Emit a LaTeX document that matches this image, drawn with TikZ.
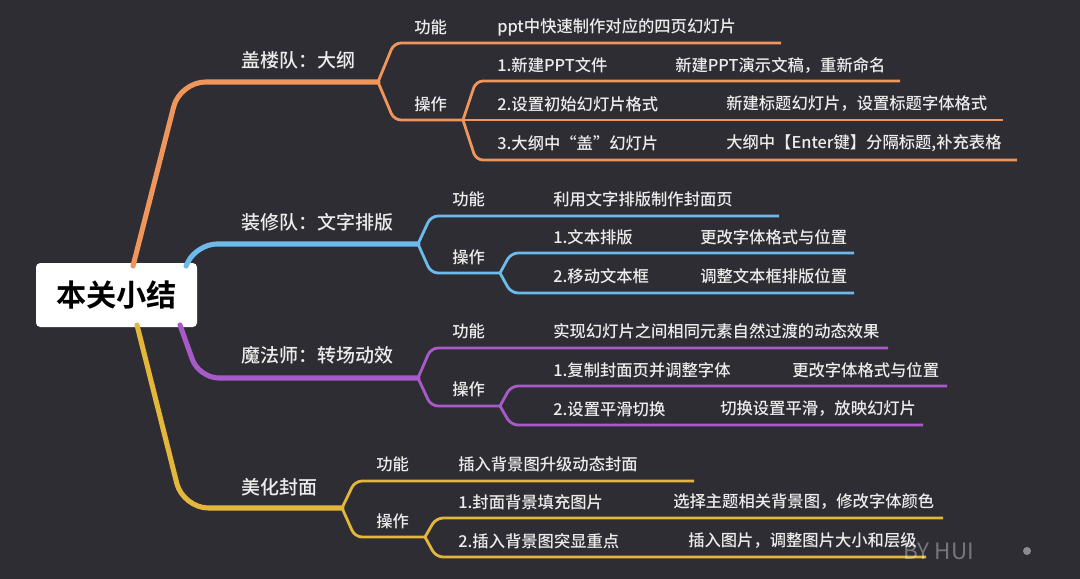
\documentclass[tikz,border=0pt]{standalone}
\usepackage{fontspec}
\setmainfont{Noto Sans CJK SC}[BoldFont={Noto Sans CJK SC Bold}]
\newfontfamily\cjkmid{Noto Sans CJK SC Medium}
\definecolor{bgdark}{HTML}{2E2D34}
\definecolor{cOrange}{HTML}{F0955B}
\definecolor{cBlue}{HTML}{6DBBEA}
\definecolor{cPurple}{HTML}{A85BC8}
\definecolor{cYellow}{HTML}{E3B63C}
\definecolor{txtwhite}{HTML}{ECECEC}

\begin{document}
\begin{tikzpicture}[
        x=0.025cm, y=-0.025cm,
        root/.style={
            rectangle,
            rounded corners=3pt,
            fill=white,
            minimum width=161*0.025cm,
            minimum height=64*0.025cm,
            inner sep=0pt,
            font=\fontsize{21.5}{24}\selectfont\bfseries,
            text=black
        },
        topic/.style={
            anchor=west,
            inner sep=0pt,
            text=txtwhite,
            font=\cjkmid\fontsize{13.5}{16}\selectfont
        },
        leaf/.style={
            anchor=west,
            inner sep=0pt,
            text=txtwhite,
            font=\cjkmid\fontsize{11.6}{14}\selectfont
        },
        mainline/.style={
            line width=3.6pt,
            rounded corners=18pt,
            line cap=round
        },
        subline/.style={
            line width=2pt,
            rounded corners=5pt
        }
    ]

    % Fondo
    \fill[bgdark] (0,0) rectangle (1080,579);
    \useasboundingbox (0,0) rectangle (1080,579);

    % Nodo central
    \node[root] (root) at (116.5,295) {本关小结};

    % ---- 盖楼队
    \coordinate (o0) at (133,266);
    \coordinate (o1) at (378,82);
    \coordinate (o2) at (463,120);
    \coordinate (o1e) at (781,43);
    \coordinate (o2a) at (900,81);
    \coordinate (o2b) at (1003,120);
    \coordinate (o2c) at (1017,160);

    \draw[mainline, cOrange] (o0) -- (180,82) -- (o1);
    \draw[subline, cOrange] (o1) -- ++(16,-39) -- (o1e);
    \draw[subline, cOrange] (o1) -- ++(16,38) -- (o2);
    \draw[subline, cOrange] (o2) -- ++(13,-39) -- (o2a);
    \draw[subline, cOrange] (o2) -- (o2b);
    \draw[subline, cOrange] (o2) -- ++(13,40) -- (o2c);

    \node[topic] (t1) at (241,60) {盖楼队：大纲};
    \node[leaf] (t1f) at (414,27) {功能};
    \node[leaf] (t1o) at (414,104) {操作};
    \node[leaf] (t1f1) at (497,27) {ppt中快速制作对应的四页幻灯片};
    \node[leaf] (t1a) at (497,65) {1.新建PPT文件};
    \node[leaf] (t1a2) at (675,65) {新建PPT演示文稿，重新命名};
    \node[leaf] (t1b) at (497,104) {2.设置初始幻灯片格式};
    \node[leaf] (t1b2) at (726,104) {新建标题幻灯片，设置标题字体格式};
    \node[leaf] (t1c) at (497,143) {3.大纲中“盖”幻灯片};
    \node[leaf] (t1c2) at (726,143) {大纲中【Enter键】分隔标题,补充表格};

    % ---- 装修队
    \coordinate (b0) at (186,266);
    \coordinate (b1) at (418,244);
    \coordinate (b2) at (500,273);
    \coordinate (b1e) at (779,216);
    \coordinate (b2a) at (854,253);
    \coordinate (b2b) at (854,293);

    \draw[mainline, cBlue, rounded corners=14pt] (b0) -- (197,244) -- (b1);
    \draw[subline, cBlue] (b1) -- ++(13,-28) -- (b1e);
    \draw[subline, cBlue] (b1) -- ++(13,29) -- (b2);
    \draw[subline, cBlue] (b2) -- ++(11,-20) -- (b2a);
    \draw[subline, cBlue] (b2) -- ++(11,20) -- (b2b);

    \node[topic] (t2) at (241,222) {装修队：文字排版};
    \node[leaf] (t2f) at (452,199) {功能};
    \node[leaf] (t2o) at (452,257) {操作};
    \node[leaf] (t2f1) at (553,199) {利用文字排版制作封面页};
    \node[leaf] (t2a) at (553,237) {1.文本排版};
    \node[leaf] (t2a2) at (700,237) {更改字体格式与位置};
    \node[leaf] (t2b) at (553,276) {2.移动文本框};
    \node[leaf] (t2b2) at (700,276) {调整文本框排版位置};

    % ---- 魔法师
    \coordinate (p0) at (180,325);
    \coordinate (p1) at (418,378);
    \coordinate (p2) at (500,406);
    \coordinate (p1e) at (888,348);
    \coordinate (p2a) at (947,386);
    \coordinate (p2b) at (923,425);

    \draw[mainline, cPurple, rounded corners=14pt] (p0) -- (199,378) -- (p1);
    \draw[subline, cPurple] (p1) -- ++(13,-30) -- (p1e);
    \draw[subline, cPurple] (p1) -- ++(13,28) -- (p2);
    \draw[subline, cPurple] (p2) -- ++(11,-20) -- (p2a);
    \draw[subline, cPurple] (p2) -- ++(11,19) -- (p2b);

    \node[topic] (t3) at (241,355) {魔法师：转场动效};
    \node[leaf] (t3f) at (452,331) {功能};
    \node[leaf] (t3o) at (452,389) {操作};
    \node[leaf] (t3f1) at (553,331) {实现幻灯片之间相同元素自然过渡的动态效果};
    \node[leaf] (t3a) at (553,370) {1.复制封面页并调整字体};
    \node[leaf] (t3a2) at (792,370) {更改字体格式与位置};
    \node[leaf] (t3b) at (553,409) {2.设置平滑切换};
    \node[leaf] (t3b2) at (720,409) {切换设置平滑，放映幻灯片};

    % ---- 美化封面
    \coordinate (y0) at (137,325);
    \coordinate (y1) at (342,508);
    \coordinate (y2) at (425,537);
    \coordinate (y1e) at (694,481);
    \coordinate (y2a) at (943,518);
    \coordinate (y2b) at (926,557);

    \draw[mainline, cYellow] (y0) -- (183,508) -- (y1);
    \draw[subline, cYellow] (y1) -- ++(13,-27) -- (y1e);
    \draw[subline, cYellow] (y1) -- ++(13,29) -- (y2);
    \draw[subline, cYellow] (y2) -- ++(11,-19) -- (y2a);
    \draw[subline, cYellow] (y2) -- ++(11,20) -- (y2b);

    \node[topic] (t4) at (241,487) {美化封面};
    \node[leaf] (t4f) at (376,464) {功能};
    \node[leaf] (t4o) at (376,521) {操作};
    \node[leaf] (t4f1) at (458,464) {插入背景图升级动态封面};
    \node[leaf] (t4a) at (458,502) {1.封面背景填充图片};
    \node[leaf] (t4a2) at (673,502) {选择主题相关背景图，修改字体颜色};
    \node[leaf] (t4b) at (458,541) {2.插入背景图突显重点};
    \node[leaf] (t4b2) at (688,541) {插入图片，调整图片大小和层级};

    % Marca de agua
    \node[anchor=west, inner sep=0pt, text=white, opacity=0.35,
        font=\fontsize{16}{18}\selectfont] (wm) at (903,551) {BY HUI};
    \fill[white, opacity=0.45] (1027,551) circle (4);

\end{tikzpicture}
\end{document}
